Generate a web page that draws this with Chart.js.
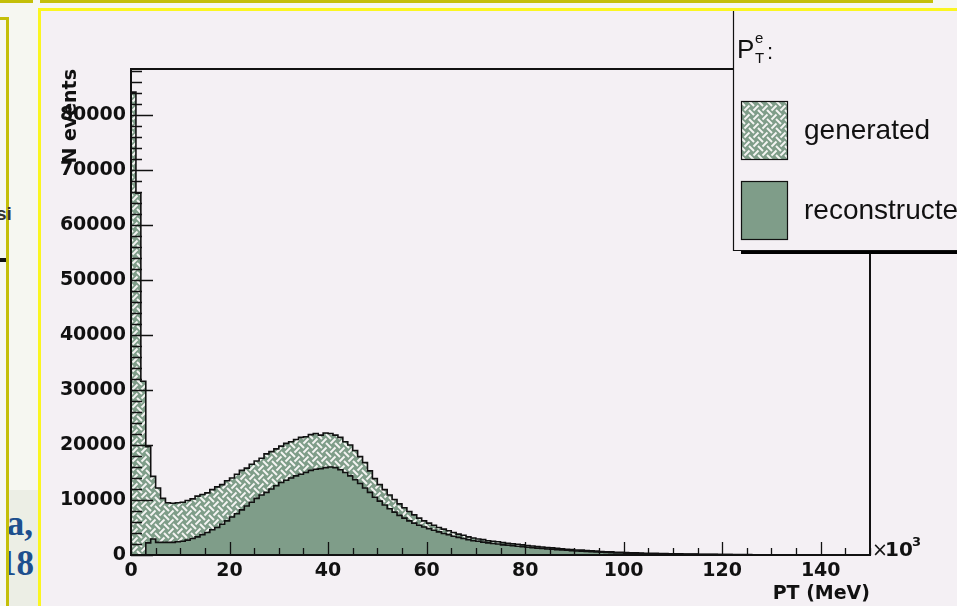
<!DOCTYPE html>
<html lang="en">
<head>
<meta charset="UTF-8">
<title>PT of electrons - generated / reconstructed</title>
<style>
  body { margin: 0; width: 957px; height: 606px; overflow: hidden; position: relative; background: #f6f7f1; font-family: "Liberation Sans", Arial, sans-serif; }
  .box { position: absolute; box-sizing: border-box; }
  #topPanel { left: 40px; top: -12px; width: 893px; height: 15px; border: 3px solid #c4bf08; background: #f1f1e8; }
  #topLeft { left: -10px; top: -12px; width: 43px; height: 15px; border: 3px solid #c4bf08; }
  #leftPanel { left: -10px; top: 17px; width: 19px; height: 600px; border: 3px solid #c4bf08; }
  #shade { left: 9px; top: 490px; width: 30px; height: 116px; background: #eceee5; overflow: hidden; }
  #mainPanel { left: 38px; top: 8px; width: 930px; height: 610px; border: 3px solid #fbf620; background: #f4f0f4; }
  .blue { position: absolute; font-family: "Liberation Serif", serif; font-weight: bold; font-size: 35px; line-height: 35px; color: #1d4f8e; white-space: nowrap; }
  canvas { position: absolute; left: 0; top: 0; }
</style>
<script src="https://cdn.jsdelivr.net/npm/chart.js"></script>
</head>
<body>
  <div class="box" id="topLeft"></div>
  <div class="box" id="topPanel"></div>
  <div class="box" id="leftPanel"></div>
  <span style="position:absolute;left:-4px;top:203px;font-size:19px;font-weight:bold;color:#333;">si</span>
  <div class="box" style="left:0;top:258px;width:6px;height:4px;background:#111;"></div>
  <div class="box" id="shade">
    <span class="blue" style="right:6px;top:16px;">a,</span>
    <span class="blue" style="right:5px;top:56px;">18</span>
  </div>
  <div class="box" id="mainPanel"></div>
  <canvas id="chart" width="957" height="606"></canvas>

<script>
// bins of 1 x10^3 MeV, 0 .. 150
const xMax = 150;
const yMax = 88400;
const binLow = Array.from({length: 150}, (_, i) => i);

const generated = [
  84200, 65800, 31600, 19700, 14300, 12200, 10300, 9500, 9400, 9500,
  9600, 9900, 10200, 10700, 11000, 11300, 11900, 12400, 12800, 13500,
  14000, 14700, 15400, 15800, 16500, 17100, 17600, 18400, 18800, 19300,
  19800, 20300, 20600, 21000, 21400, 21500, 21900, 22100, 21800, 22200,
  22100, 21800, 21400, 20600, 20000, 19000, 17900, 16800, 15300, 13900,
  12800, 11900, 10900, 10100, 9300, 8600, 7900, 7300, 6700, 6200,
  5800, 5400, 5000, 4700, 4400, 4100, 3800, 3600, 3300, 3100,
  2900, 2800, 2600, 2500, 2400, 2250, 2150, 2050, 1950, 1850,
  1700, 1650, 1550, 1450, 1350, 1300, 1200, 1150, 1050, 1000,
  900, 880, 800, 760, 700, 650, 600, 580, 500, 470,
  440, 420, 380, 360, 320, 300, 290, 260, 250, 230,
  210, 200, 190, 170, 160, 150, 130, 120, 110, 100,
  90, 80, 80, 70, 60, 60, 50, 50, 40, 40,
  40, 30, 30, 30, 20, 20, 20, 20, 10, 10,
  10, 10, 10, 10, 10, 0, 10, 0, 0, 0
];

const reconstructed = [
  0, 0, 0, 2200, 2900, 2300, 2300, 2300, 2300, 2400,
  2500, 2700, 3000, 3300, 3700, 4100, 4600, 5000, 5600, 6200,
  6900, 7500, 8200, 8900, 9600, 10300, 10900, 11400, 12000, 12600,
  13200, 13600, 14000, 14400, 14700, 15000, 15400, 15600, 15700, 15900,
  16000, 15900, 15500, 15000, 14400, 13700, 13000, 12200, 11400, 10500,
  9800, 9100, 8400, 7800, 7200, 6700, 6200, 5800, 5400, 5100,
  4800, 4500, 4200, 3900, 3700, 3400, 3200, 3000, 2800, 2600,
  2500, 2350, 2200, 2100, 2000, 1850, 1800, 1700, 1600, 1500,
  1400, 1350, 1250, 1200, 1100, 1050, 980, 930, 860, 800,
  740, 700, 640, 600, 560, 520, 480, 440, 380, 360,
  330, 310, 280, 260, 240, 220, 210, 190, 180, 160,
  150, 140, 130, 120, 110, 100, 90, 80, 80, 70,
  60, 60, 50, 50, 40, 40, 40, 30, 30, 30,
  20, 20, 20, 20, 10, 10, 10, 10, 10, 10,
  0, 0, 0, 0, 0, 0, 0, 0, 0, 0
];

const yTicks = [0, 10000, 20000, 30000, 40000, 50000, 60000, 70000, 80000];
const xTicks = [0, 20, 40, 60, 80, 100, 120, 140];
const legendLabels = ['generated', 'reconstructed'];

const green = '#7f9d89';
const axisFont = {family: 'DejaVu Sans', weight: 'bold', size: 19};

// basket weave fill, like ROOT hatch style
function weave() {
  const s = 9, c = document.createElement('canvas');
  c.width = c.height = s;
  const g = c.getContext('2d');
  g.fillStyle = green;
  g.fillRect(0, 0, s, s);
  g.strokeStyle = '#f4f4f2';
  g.lineWidth = 2;
  g.beginPath();
  g.moveTo(2, 2); g.lineTo(s - 2, s - 2);
  g.moveTo(-1, s + 1); g.lineTo(s / 2 - 2, s / 2 + 2);
  g.moveTo(s / 2 + 2, s / 2 - 2); g.lineTo(s + 1, -1);
  g.moveTo(-1, 1); g.lineTo(1, -1);
  g.moveTo(s - 1, s + 1); g.lineTo(s + 1, s - 1);
  g.stroke();
  return g.createPattern(c, 'repeat');
}
const hatch = weave();

function histPoints(vals) {
  const pts = [{x: 0, y: 0}];
  vals.forEach((v, i) => pts.push({x: binLow[i], y: v}));
  pts.push({x: xMax, y: vals[vals.length - 1]});
  pts.push({x: xMax, y: 0});
  return pts;
}

const rootFrame = {
  id: 'rootFrame',
  afterDraw(chart) {
    const {ctx, chartArea: a, scales: {x, y}} = chart;
    ctx.save();
    ctx.strokeStyle = '#111';
    ctx.lineWidth = 1.3;
    ctx.beginPath();
    for (let v = 0; v <= 88000; v += 2000) {
      const py = Math.round(y.getPixelForValue(v)) + 0.5;
      ctx.moveTo(a.left, py);
      ctx.lineTo(a.left + (v % 10000 === 0 ? 22 : 11), py);
    }
    for (let v = 0; v <= xMax; v += 5) {
      const px = Math.round(x.getPixelForValue(v)) + 0.5;
      ctx.moveTo(px, a.bottom);
      ctx.lineTo(px, a.bottom - (v % 20 === 0 ? 13 : 7));
    }
    ctx.stroke();
    ctx.lineWidth = 2;
    ctx.strokeRect(a.left, a.top, a.right - a.left, a.bottom - a.top);

    // x10^3
    ctx.fillStyle = '#111';
    ctx.textBaseline = 'alphabetic';
    ctx.font = '19px "DejaVu Sans"';
    ctx.fillText('\u00d7', a.right + 2, a.bottom + 1);
    ctx.font = 'bold 20px "DejaVu Sans"';
    ctx.fillText('10', a.right + 15, a.bottom + 1);
    ctx.font = 'bold 13px "DejaVu Sans"';
    ctx.fillText('3', a.right + 42, a.bottom - 9);

    // legend
    const lx = 733, ly = 11, lb = 250;
    ctx.fillStyle = '#f4f0f4';
    ctx.fillRect(lx, ly, 957 - lx, lb - ly);
    ctx.fillStyle = '#000';
    ctx.fillRect(lx + 8, lb, 957 - lx, 4);
    ctx.lineWidth = 1.2;
    ctx.beginPath();
    ctx.moveTo(lx + 0.5, ly);
    ctx.lineTo(lx + 0.5, lb + 0.5);
    ctx.lineTo(957, lb + 0.5);
    ctx.stroke();

    ctx.fillStyle = '#111';
    ctx.font = '26px "Liberation Sans"';
    ctx.fillText('P', 737, 58);
    ctx.font = '15px "Liberation Sans"';
    ctx.fillText('e', 755, 43);
    ctx.fillText('T', 755, 63);
    ctx.font = '22px "Liberation Sans"';
    ctx.fillText(':', 767, 59);

    const sw = [[101, hatch], [181, green]];
    sw.forEach(([top, fill], i) => {
      ctx.fillStyle = fill;
      ctx.fillRect(741, top, 46, 58);
      ctx.strokeStyle = '#111';
      ctx.lineWidth = 1.2;
      ctx.strokeRect(741.5, top + 0.5, 46, 58);
      ctx.fillStyle = '#111';
      ctx.font = '28px "Liberation Sans"';
      ctx.fillText(legendLabels[i], 804, top + 38);
    });
    ctx.restore();
  }
};

new Chart(document.getElementById('chart'), {
  type: 'line',
  data: {
    datasets: [
      {label: legendLabels[0], data: histPoints(generated), order: 2, stepped: true,
       fill: 'origin', backgroundColor: hatch, borderColor: '#111', borderWidth: 1.6, pointRadius: 0},
      {label: legendLabels[1], data: histPoints(reconstructed), order: 1, stepped: true,
       fill: 'origin', backgroundColor: green, borderColor: '#111', borderWidth: 1.6, pointRadius: 0}
    ]
  },
  options: {
    responsive: false,
    devicePixelRatio: 1,
    animation: false,
    layout: {padding: {top: 69, right: 87, bottom: 0, left: 0}},
    plugins: {legend: {display: false}, tooltip: {enabled: false}},
    scales: {
      x: {
        type: 'linear', min: 0, max: xMax,
        afterFit: s => { s.height = 51; },
        afterBuildTicks: s => { s.ticks = xTicks.map(v => ({value: v})); },
        grid: {display: false, drawTicks: false}, border: {display: false},
        ticks: {font: axisFont, color: '#111', padding: 5, maxRotation: 0, autoSkip: false, callback: v => String(v)},
        title: {display: true, text: 'PT (MeV)', align: 'end', font: axisFont, color: '#111', padding: {top: 0, bottom: 1}}
      },
      y: {
        type: 'linear', min: 0, max: yMax,
        afterFit: s => { s.width = 131; },
        afterBuildTicks: s => { s.ticks = yTicks.map(v => ({value: v})); },
        grid: {display: false, drawTicks: false}, border: {display: false},
        ticks: {font: axisFont, color: '#111', padding: 5, callback: v => String(v)},
        title: {display: true, text: 'N events', align: 'end', font: axisFont, color: '#111', padding: {top: 60, bottom: 0}}
      }
    }
  },
  plugins: [rootFrame]
});
</script>
</body>
</html>
